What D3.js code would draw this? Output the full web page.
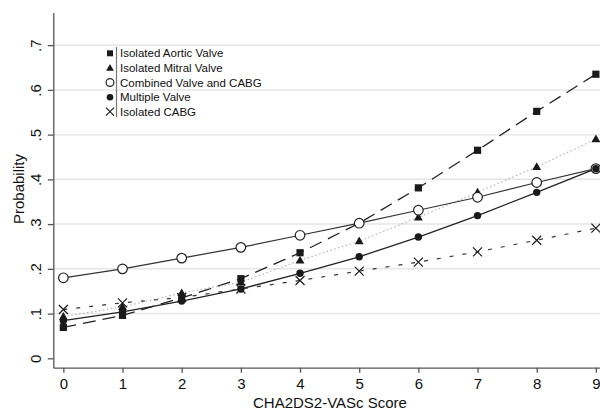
<!DOCTYPE html>
<html lang="en">
<head>
<meta charset="utf-8">
<title>Probability by CHA2DS2-VASc Score</title>
<script src="https://cdn.jsdelivr.net/npm/d3@7"></script>
<style>
  body { margin: 0; background: #fff; }
  svg { display: block; font-family: "Liberation Sans", Arial, sans-serif; }
  .grid line { stroke: #e6e6e6; stroke-width: 1.5; }
  .axis path, .axis line { stroke: #555; stroke-width: 1.3; fill: none; }
  .axis text { fill: #111; font-size: 15px; }
  .series { fill: none; }
</style>
</head>
<body>
<svg id="chart" width="600" height="410"></svg>
<script>
// Data
var scores = [0, 1, 2, 3, 4, 5, 6, 7, 8, 9];
var aortic   = [0.069, 0.096, 0.135, 0.178, 0.236, 0.302, 0.381, 0.465, 0.552, 0.635];
var mitral   = [0.093, 0.115, 0.146, 0.170, 0.219, 0.262, 0.315, 0.371, 0.428, 0.490];
var combined = [0.180, 0.200, 0.224, 0.248, 0.275, 0.302, 0.331, 0.360, 0.393, 0.424];
var multiple = [0.084, 0.104, 0.128, 0.155, 0.190, 0.227, 0.271, 0.319, 0.371, 0.424];
var cabg     = [0.109, 0.124, 0.136, 0.155, 0.174, 0.195, 0.215, 0.238, 0.264, 0.291];
var yTicks = [0, 0.1, 0.2, 0.3, 0.4, 0.5, 0.6, 0.7];
var yTickLabels = ["0", ".1", ".2", ".3", ".4", ".5", ".6", ".7"];
var seriesNames = ["Isolated Aortic Valve", "Isolated Mitral Valve", "Combined Valve and CABG", "Multiple Valve", "Isolated CABG"];

var svg = d3.select("#chart");

// scales: axes meet a little below 0 and left of score 0, like Stata
var x = d3.scaleLinear().domain([-0.17, 9.1]).range([53.3, 601.8]);
var y = d3.scaleLinear().domain([-0.021, 0.773]).range([367.7, 12.5]);

// gridlines
svg.append("g").attr("class", "grid")
  .selectAll("line").data(yTicks.slice(1)).enter().append("line")
    .attr("x1", x(-0.17)).attr("x2", 600)
    .attr("y1", function(d) { return y(d); })
    .attr("y2", function(d) { return y(d); });

// y axis
var yAxis = svg.append("g").attr("class", "axis")
  .attr("transform", "translate(" + x(-0.17) + ",0)")
  .call(d3.axisLeft(y).tickValues(yTicks).tickSize(5.5).tickSizeOuter(0)
    .tickFormat(function(d, i) { return yTickLabels[i]; }));
yAxis.selectAll("text")
  .attr("x", null).attr("dy", null)
  .attr("text-anchor", "middle")
  .attr("transform", "translate(-12.5,0) rotate(-90)");

// x axis
svg.append("g").attr("class", "axis")
  .attr("transform", "translate(0," + y(-0.021) + ")")
  .call(d3.axisBottom(x).tickValues(scores).tickSize(5).tickSizeOuter(0).tickPadding(6)
    .tickFormat(d3.format("d")));

// axis titles
svg.append("text")
  .attr("x", 330).attr("y", 407.5)
  .attr("text-anchor", "middle").attr("font-size", 15).attr("fill", "#111")
  .text("CHA2DS2-VASc Score");
svg.append("text")
  .attr("transform", "translate(23.5,189) rotate(-90)")
  .attr("text-anchor", "middle").attr("font-size", 15).attr("fill", "#111")
  .text("Probability");

// series definitions
var series = [
  { name: seriesNames[0], values: aortic,   marker: "square",   stroke: "#222", dash: "13,7", width: 1.3 },
  { name: seriesNames[1], values: mitral,   marker: "triangle", stroke: "#b0b0b0", dash: "1.5,2.5", width: 1.1 },
  { name: seriesNames[2], values: combined, marker: "hollow",   stroke: "#333", dash: null, width: 1.2 },
  { name: seriesNames[3], values: multiple, marker: "dot",      stroke: "#222", dash: null, width: 1.3 },
  { name: seriesNames[4], values: cabg,     marker: "cross",    stroke: "#333", dash: "4,9", width: 1.2 }
];

var line = d3.line()
  .x(function(d, i) { return x(scores[i]); })
  .y(function(d) { return y(d); });

series.forEach(function(s) {
  svg.append("path")
    .attr("class", "series")
    .attr("d", line(s.values))
    .attr("stroke", s.stroke)
    .attr("stroke-width", s.width)
    .attr("stroke-dasharray", s.dash);
});

function drawMarker(g, type, cx, cy) {
  if (type === "square") {
    g.append("rect").attr("x", cx - 3.6).attr("y", cy - 3.6)
      .attr("width", 7.2).attr("height", 7.2).attr("fill", "#1a1a1a");
  } else if (type === "triangle") {
    g.append("path").attr("d", d3.symbol().type(d3.symbolTriangle).size(34)())
      .attr("transform", "translate(" + cx + "," + (cy + 0.5) + ")").attr("fill", "#1a1a1a");
  } else if (type === "hollow") {
    g.append("circle").attr("cx", cx).attr("cy", cy).attr("r", 4.8)
      .attr("fill", "#fff").attr("stroke", "#222").attr("stroke-width", 1.2);
  } else if (type === "dot") {
    g.append("circle").attr("cx", cx).attr("cy", cy).attr("r", 3.7).attr("fill", "#1a1a1a");
  } else if (type === "cross") {
    g.append("path")
      .attr("d", "M" + (cx - 4.5) + "," + (cy - 4.5) + "L" + (cx + 4.5) + "," + (cy + 4.5) +
                 "M" + (cx - 4.5) + "," + (cy + 4.5) + "L" + (cx + 4.5) + "," + (cy - 4.5))
      .attr("stroke", "#1a1a1a").attr("stroke-width", 1.2);
  }
}

// markers, drawn in legend order
series.forEach(function(s) {
  var g = svg.append("g");
  s.values.forEach(function(v, i) { drawMarker(g, s.marker, x(scores[i]), y(v)); });
});

// legend
var legend = svg.append("g");
var legendY = [53.3, 68, 82.5, 97.2, 111.7];
legend.append("line")
  .attr("x1", 116.5).attr("x2", 116.5).attr("y1", 47).attr("y2", 117)
  .attr("stroke", "#777").attr("stroke-width", 1.2);
series.forEach(function(s, i) {
  var ly = legendY[i];
  var g = legend.append("g");
  if (s.marker === "hollow") {
    g.append("circle").attr("cx", 110).attr("cy", ly).attr("r", 3.9)
      .attr("fill", "#fff").attr("stroke", "#222").attr("stroke-width", 1.2);
  } else if (s.marker === "square") {
    g.append("rect").attr("x", 107).attr("y", ly - 3).attr("width", 6).attr("height", 6).attr("fill", "#1a1a1a");
  } else if (s.marker === "triangle") {
    g.append("path").attr("d", d3.symbol().type(d3.symbolTriangle).size(26)())
      .attr("transform", "translate(110," + (ly + 0.5) + ")").attr("fill", "#1a1a1a");
  } else if (s.marker === "dot") {
    g.append("circle").attr("cx", 110).attr("cy", ly).attr("r", 3.3).attr("fill", "#1a1a1a");
  } else {
    g.append("path")
      .attr("d", "M106,"+(ly-4)+"L114,"+(ly+4)+"M106,"+(ly+4)+"L114,"+(ly-4))
      .attr("stroke", "#1a1a1a").attr("stroke-width", 1.1);
  }
  legend.append("text")
    .attr("x", 120).attr("y", ly).attr("dy", "0.35em")
    .attr("font-size", 11.5).attr("fill", "#111")
    .text(s.name);
});
</script>
</body>
</html>
